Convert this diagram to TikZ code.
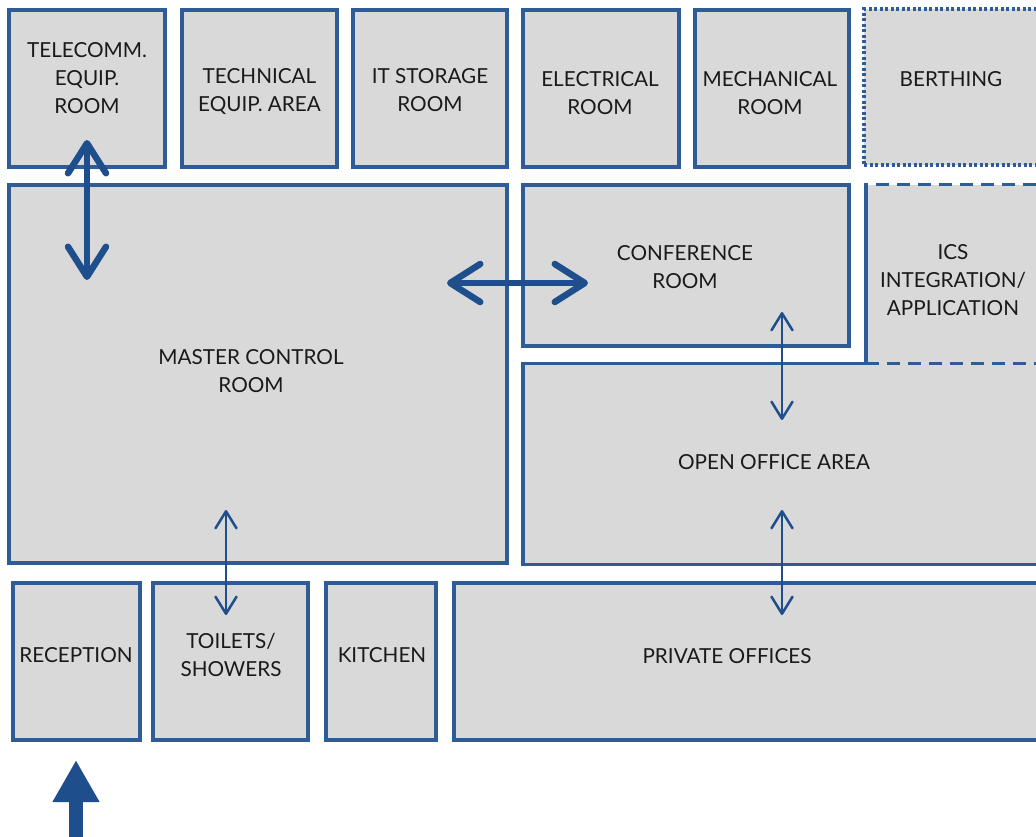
\documentclass[tikz,border=0pt]{standalone}
\usepackage{fontspec}
\setmainfont{Lato}
\usetikzlibrary{arrows.meta}
\definecolor{wallblue}{HTML}{2F5C96}
\definecolor{arrowblue}{HTML}{1F4E8C}
\definecolor{roomgray}{HTML}{D9D9D9}
\definecolor{labelgray}{HTML}{1A1A1A}
\begin{document}
\begin{tikzpicture}[x=1pt,y=-1pt,
  room/.style={draw=wallblue, fill=roomgray, line width=3.2pt, outer sep=0pt, inner sep=0pt},
  berth/.style={room, dash pattern=on 3pt off 2.5pt},
  icsroom/.style={room, dash pattern=on 13pt off 8pt},
  wall/.style={draw=wallblue, line width=3.2pt, line join=miter},
  roomtext/.style={align=center, inner sep=0pt, text=labelgray, font=\fontsize{20.7}{28}\selectfont},
  bigbarb/.tip={Straight Barb[length=30pt,width=38pt,round]},
  smallbarb/.tip={Straight Barb[length=17pt,width=21pt,round]},
  bigpass/.style={bigbarb-bigbarb, draw=arrowblue, line width=6.5pt},
  smallpass/.style={smallbarb-smallbarb, draw=arrowblue, line width=2.5pt},
  entry/.style={-{Triangle[length=42pt,width=44pt]}, draw=arrowblue, fill=arrowblue, line width=14pt}]
\useasboundingbox (0,0) rectangle (1036,836);
\clip (0,0) rectangle (1036,836);
% top row
\node[room, minimum width=156pt, minimum height=157pt] (telecomm) at (87,88.5) {};
\node[roomtext] (telecommtxt) at (87,78) {TELECOMM.\\EQUIP.\\ROOM};
\node[room, minimum width=155pt, minimum height=157pt] (technical) at (259.5,88.5) {};
\node[roomtext] (technicaltxt) at (259.5,92) {TECHNICAL\\EQUIP. AREA};
\node[room, minimum width=154pt, minimum height=157pt] (itstorage) at (430,88.5) {};
\node[roomtext] (itstoragetxt) at (430,90.5) {IT STORAGE\\ROOM};
\node[room, minimum width=156pt, minimum height=157pt] (electrical) at (601,88.5) {};
\node[roomtext] (electricaltxt) at (600,93) {ELECTRICAL\\ROOM};
\node[room, minimum width=154pt, minimum height=157pt] (mechanical) at (772,88.5) {};
\node[roomtext] (mechanicaltxt) at (770,93) {MECHANICAL\\ROOM};
\node[berth, minimum width=176pt, minimum height=156pt] (berthing) at (952,87) {};
\node[roomtext] (berthingtxt) at (951,79) {BERTHING};
% middle
\node[room, minimum width=498pt, minimum height=378pt] (master) at (258,374) {};
\node[roomtext] (mastertxt) at (251,371) {MASTER CONTROL\\ROOM};
\node[room, minimum width=326pt, minimum height=161pt] (conference) at (686,265.5) {};
\node[roomtext] (conferencetxt) at (685,267) {CONFERENCE\\ROOM};
\node[room, draw=none, minimum width=517pt, minimum height=201pt] (open) at (781.5,464) {};
\node[icsroom, minimum width=174pt, minimum height=179pt] (ics) at (953,274) {};
\draw[wall] (ics.north west) -- (ics.south west) -- (open.north west)
  -- (open.south west) -- (open.south east);
\node[roomtext] (icstxt) at (953,280) {ICS\\INTEGRATION/\\APPLICATION};
\node[roomtext] (opentxt) at (774,462) {OPEN OFFICE AREA};
% bottom row
\node[room, minimum width=127pt, minimum height=157pt] (reception) at (76.5,661.5) {};
\node[roomtext] (receptiontxt) at (76,655) {RECEPTION};
\node[room, minimum width=155pt, minimum height=157pt] (toilets) at (230.5,661.5) {};
\node[roomtext] (toiletstxt) at (231,655) {TOILETS/\\SHOWERS};
\node[room, minimum width=110pt, minimum height=157pt] (kitchen) at (381,661.5) {};
\node[roomtext] (kitchentxt) at (382,655) {KITCHEN};
\node[room, minimum width=586pt, minimum height=157pt] (private) at (747,661.5) {};
\node[roomtext] (privatetxt) at (727,656) {PRIVATE OFFICES};
% passages
\draw[bigpass] (telecomm.south) ++(0,-27) -- ++(0,140);
\draw[bigpass] (conference.west) ++(-76,17.5) -- ++(141,0);
\draw[smallpass] (conference.south west) ++(259,-34) -- ++(0,108);
\draw[smallpass] (private.north west) ++(328,-73) -- ++(0,105);
\draw[smallpass] (toilets.north) ++(-4.5,-73) -- ++(0,105);
\draw[entry] (reception.south) ++(-0.5,100) -- ++(0,-80);
\end{tikzpicture}
\end{document}
